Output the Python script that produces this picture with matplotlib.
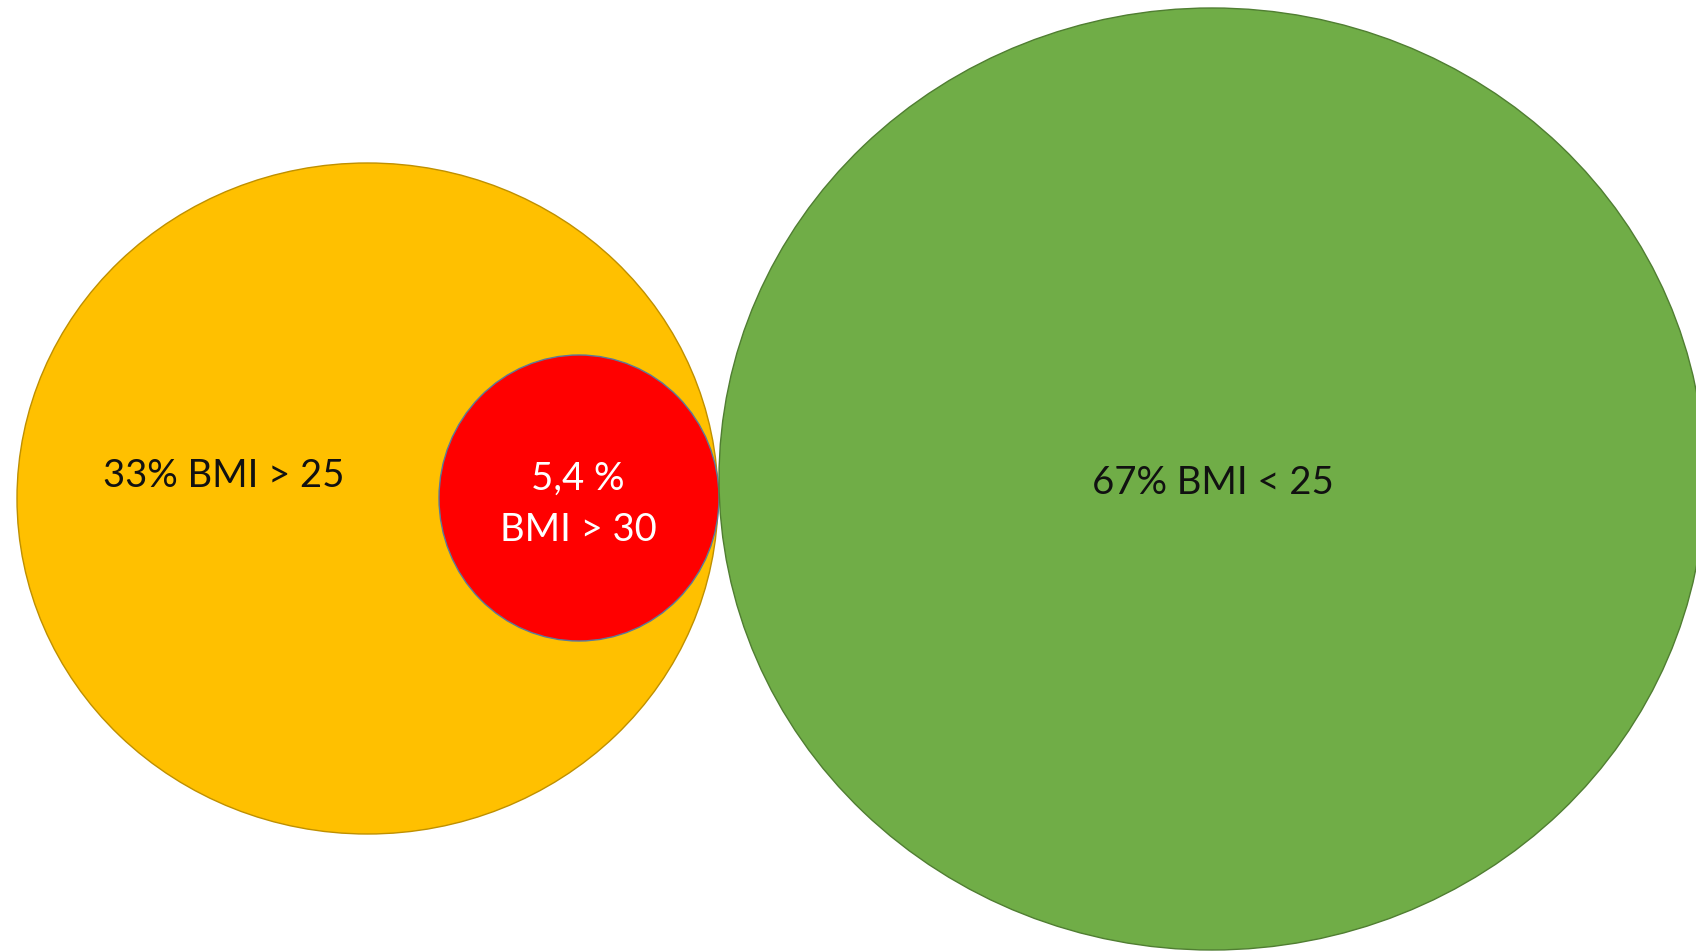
import matplotlib.pyplot as plt
from matplotlib.patches import Ellipse

# groups shown as nested/adjacent bubbles
labels = ["33% BMI > 25", "5,4 %\nBMI > 30", "67% BMI < 25"]
shares = [33.0, 5.4, 67.0]

# layout in pixel coordinates (x, y of centre, width, height)
centres = [(367.5, 499.5), (579, 499), (1212, 480)]
sizes = [(701, 671), (280, 286), (986, 942)]
label_pos = [(224, 476), (578, 504), (1213, 483)]
face_colors = ["#FFC000", "#FF0000", "#70AD47"]
edge_colors = ["#BF9000", "#5A7A9A", "#507E32"]
text_colors = ["#111111", "white", "#111111"]

W, H = 1696, 953

fig = plt.figure(figsize=(W / 100, H / 100), dpi=100)
ax = fig.add_axes([0, 0, 1, 1])
ax.set_xlim(0, W)
ax.set_ylim(H, 0)
ax.set_aspect("equal")
ax.axis("off")

for (cx, cy), (w, h), fc, ec in zip(centres, sizes, face_colors, edge_colors):
    ax.add_patch(Ellipse((cx, cy), w, h, facecolor=fc, edgecolor=ec, lw=1.0))

for lab, (tx, ty), tc in zip(labels, label_pos, text_colors):
    ax.text(tx, ty, lab, ha="center", va="center", color=tc, fontsize=27.5,
            family="Lato", linespacing=1.52)

fig.savefig("out.png", dpi=100)
